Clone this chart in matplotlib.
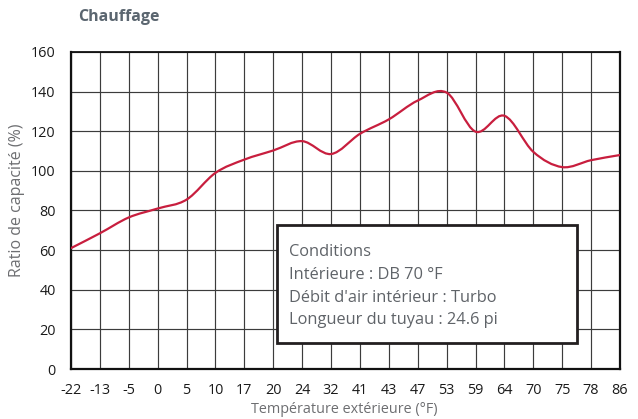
import matplotlib
matplotlib.use("Agg")
import matplotlib.pyplot as plt
from matplotlib.path import Path
from matplotlib.patches import PathPatch, Rectangle
import numpy as np

plt.rcParams['font.family'] = ['Open Sans', 'DejaVu Sans']

# ---- data ----
temps = ["-22", "-13", "-5", "0", "5", "10", "17", "20", "24", "32",
         "41", "43", "47", "53", "59", "64", "70", "75", "78", "86"]
ratio = [61, 68.5, 76.5, 81, 85.5, 99, 105.7, 110.3, 115, 108.5,
         118.7, 126, 135.5, 139.5, 119.8, 127.8, 109.6, 101.9, 105.4, 108]
y_ticks = [0, 20, 40, 60, 80, 100, 120, 140, 160]
title = "Chauffage"
xlabel = "Température extérieure (°F)"
ylabel = "Ratio de capacité (%)"
conditions = ["Conditions",
              "Intérieure : DB 70 °F",
              "Débit d'air intérieur : Turbo",
              "Longueur du tuyau : 24.6 pi"]

# ---- figure ----
fig = plt.figure(figsize=(6.38, 4.19), dpi=100)
ax = fig.add_axes([71/638, 1-369/419, 549/638, 317/419])

x = np.arange(len(temps), dtype=float)
y = np.array(ratio, dtype=float)

# smooth curve (Catmull-Rom as cubic Bezier segments through the data points)
m = np.zeros_like(y)
m[1:-1] = (y[2:] - y[:-2]) / 2.0
m[0] = y[1] - y[0]
m[-1] = y[-1] - y[-2]
verts = [(x[0], y[0])]
codes = [Path.MOVETO]
for i in range(len(x) - 1):
    verts += [(x[i] + 1/3, y[i] + m[i]/3),
              (x[i+1] - 1/3, y[i+1] - m[i+1]/3),
              (x[i+1], y[i+1])]
    codes += [Path.CURVE4] * 3
ax.add_patch(PathPatch(Path(verts, codes), fill=False, edgecolor='#c81e3e',
                       linewidth=1.6, capstyle='round', joinstyle='round', zorder=3))

ax.set_xlim(x[0], x[-1])
ax.set_ylim(0, 160)
ax.set_xticks(x)
ax.set_xticklabels(temps)
ax.set_yticks(y_ticks)
ax.tick_params(axis='both', length=0, labelsize=10.4, colors='#1a1a1a')
ax.tick_params(axis='x', pad=10)
ax.tick_params(axis='y', pad=11)
ax.grid(True, color='#3c3c3c', linewidth=0.85)
ax.set_axisbelow(True)
for s in ['left', 'bottom', 'right']:
    ax.spines[s].set_linewidth(1.6)
    ax.spines[s].set_color('#111111')
ax.spines['top'].set_linewidth(1.3)
ax.spines['top'].set_color('#111111')

# conditions box
ax.add_patch(Rectangle((0.375, 0.082), 0.547, 0.372, transform=ax.transAxes,
                       facecolor='white', edgecolor='#231f20', linewidth=2.0, zorder=4))
line_y = [0.369, 0.298, 0.225, 0.153]
for txt, yy in zip(conditions, line_y):
    ax.text(0.397, yy, txt, transform=ax.transAxes, ha='left', va='center',
            fontsize=11.8, color='#5f6368', zorder=5)

fig.text(78/638, 1-17/419, title, ha='left', va='center', fontsize=11.5,
         fontweight='bold', color='#5b6670')
fig.text(344/638, 1-409/419, xlabel, ha='center', va='center', fontsize=10.4,
         color='#6d6e71')
fig.text(17/638, 1-200/419, ylabel, ha='center', va='center', fontsize=11.5,
         color='#6d6e71', rotation=90)

fig.savefig("out.png", dpi=100)
